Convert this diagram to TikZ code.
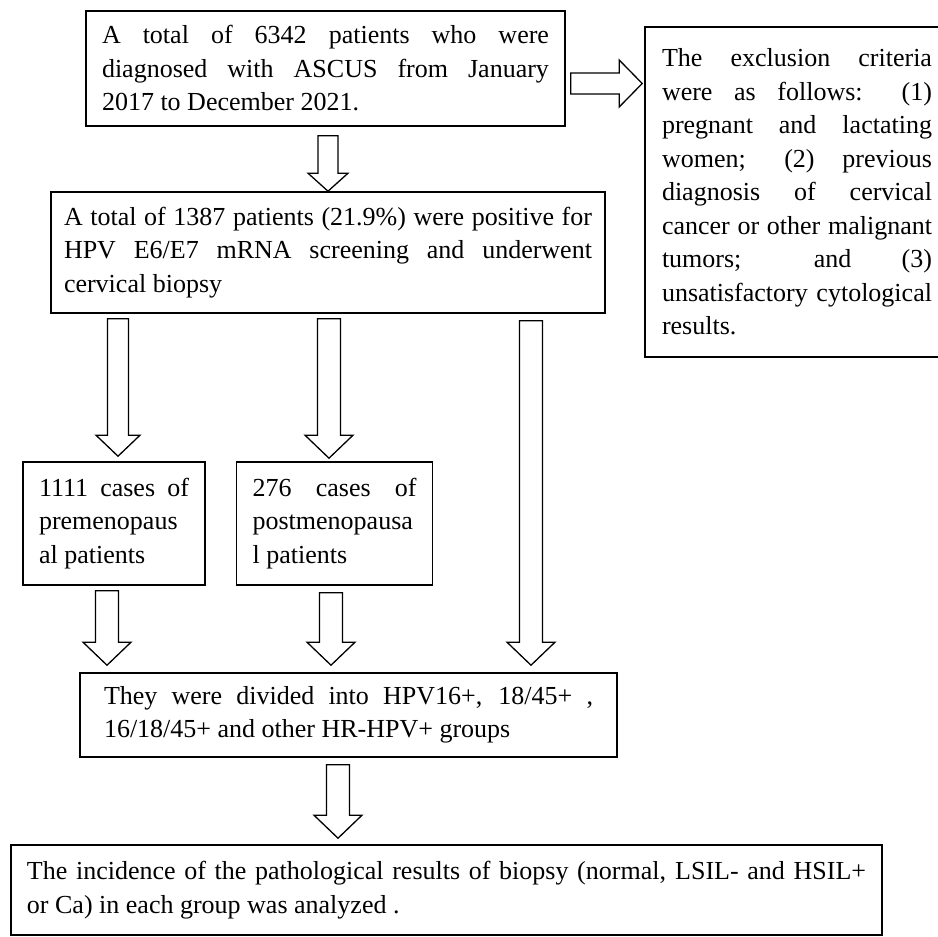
\documentclass[tikz,border=0pt]{standalone}
\usepackage{fontspec}
\setmainfont{Liberation Serif}
\usetikzlibrary{positioning, calc}

\begin{document}
\begin{tikzpicture}[
    x=1pt, y=-1pt,
    font=\fontsize{26pt}{33.5pt}\selectfont,
    box/.style={
        rectangle,
        draw,
        line width=1.6pt,
        inner sep=0pt,
        align=justify
    },
    fat/.style n args={3}{
        draw,
        fill=white,
        line width=1.3pt,
        line join=miter,
        to path={
            let \p1=(\tikztostart), \p2=(\tikztotarget),
                \p3=($(\p2)!#3!(\p1)$) in
            ($(\p1)!#1!90:(\p2)$) -- ($(\p3)!#1!-90:(\p1)$)
            -- ($(\p3)!#2!-90:(\p1)$) -- (\p2)
            -- ($(\p3)!#2!90:(\p1)$) -- ($(\p3)!#1!90:(\p1)$)
            -- ($(\p1)!#1!-90:(\p2)$) -- cycle
        }
    },
    arrow/.style={
        fat={11.5pt}{24pt}{23pt}
    }
]

    \useasboundingbox (0,0) rectangle (938,937);

    % Diagnosed patients
    \node[box, minimum width=479pt, minimum height=115pt, text width=447pt] (total) at (325.5,68.5)
        {A total of 6342 patients who were\linebreak
         diagnosed with ASCUS from January\linebreak
         2017 to December 2021.};

    % Exclusion criteria
    \node[box, minimum width=304pt, minimum height=330pt, text width=270pt] (exclude) at (797,192)
        {The exclusion criteria\linebreak
         were as follows: (1)\linebreak
         pregnant and lactating\linebreak
         women; (2) previous\linebreak
         diagnosis of cervical\linebreak
         cancer or other malignant\linebreak
         tumors; and (3)\linebreak
         unsatisfactory cytological\linebreak
         results.};

    \coordinate (laneR) at (0,83.5);
    \draw[fat={10.5pt}{23.5pt}{23pt}] ([xshift=5pt]total.east |- laneR) to ([xshift=-2pt]exclude.west |- laneR);

    % mRNA positive
    \node[box, minimum width=554pt, minimum height=121pt, text width=528pt] (mrna) at (328,252.5)
        {A total of 1387 patients (21.9\%) were positive for\linebreak
         HPV E6/E7 mRNA screening and underwent\linebreak
         cervical biopsy};
    \draw[fat={10pt}{20pt}{18pt}] ([yshift=-9pt]total.south -| mrna.north) to (mrna.north);

    % Menopausal status
    \node[box, minimum width=182pt, minimum height=123pt, text width=150pt] (pre) at (114,523.5)
        {1111 cases of\linebreak premenopaus\\al patients};
    \node[box, right=30pt of pre, minimum width=196pt, minimum height=123pt, text width=164pt] (post)
        {276 cases of\linebreak postmenopausa\\l patients};

    \coordinate (laneA) at (118,0);
    \coordinate (laneB) at (329,0);
    \draw[fat={10.5pt}{22pt}{21pt}] ([yshift=-5pt]mrna.south -| laneA) to ([yshift=5pt]pre.north -| laneA);
    \draw[arrow] ([yshift=-5pt]mrna.south -| laneB) to ([yshift=3pt]post.north -| laneB);

    % HPV groups
    \node[box, minimum width=537pt, minimum height=84pt, text width=489pt] (groups) at (348.5,715)
        {They were divided into HPV16+, 18/45+ ,\linebreak
         16/18/45+ and other HR-HPV+ groups};

    \coordinate (laneC) at (531,0);
    \coordinate (laneD) at (107,0);
    \coordinate (laneE) at (331,0);
    \draw[arrow] ([yshift=-7pt]mrna.south -| laneC) to ([yshift=7pt]groups.north -| laneC);
    \draw[arrow] ([yshift=-5pt]pre.south -| laneD) to ([yshift=7pt]groups.north -| laneD);
    \draw[arrow] ([yshift=-7pt]post.south -| laneE) to ([yshift=7pt]groups.north -| laneE);

    % Biopsy results
    \node[box, minimum width=871pt, minimum height=90pt, text width=839pt] (result) at (446.5,890)
        {The incidence of the pathological results of biopsy (normal, LSIL- and HSIL+\linebreak
         or Ca) in each group was analyzed .};

    \coordinate (laneF) at (338,0);
    \draw[arrow] ([yshift=-7pt]groups.south -| laneF) to ([yshift=6pt]result.north -| laneF);

\end{tikzpicture}
\end{document}
